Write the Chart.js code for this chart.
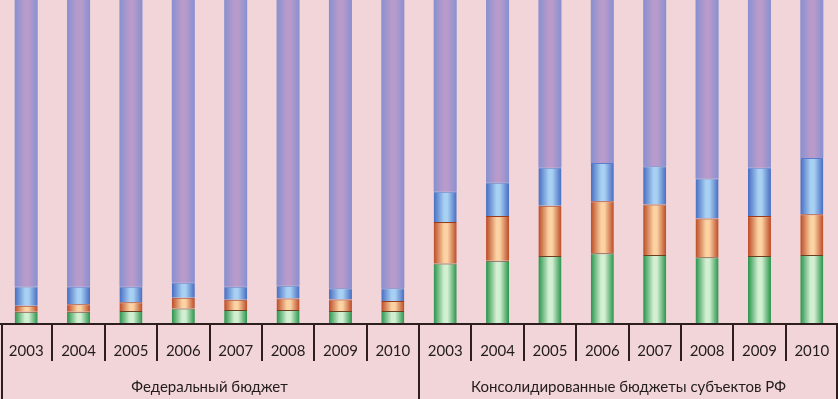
<!DOCTYPE html>
<html lang="ru">
<head>
  <meta charset="UTF-8">
  <title>Структура бюджетов</title>
  <script src="https://cdn.jsdelivr.net/npm/chart.js"></script>
  <style>
    html, body { margin: 0; padding: 0; background: #f2d5d8; }
    #wrap { width: 838px; height: 399px; }
  </style>
</head>
<body>
  <div id="wrap"><canvas id="budgetChart"></canvas></div>

  <script>
    // years on the axis, two groups of eight
    const years = ['2003', '2004', '2005', '2006', '2007', '2008', '2009', '2010'];
    const groups = ['Федеральный бюджет', 'Консолидированные бюджеты субъектов РФ'];
    const labels = years.concat(years);

    // shares, %
    const greenShare  = [3.8, 3.8, 4.0, 4.8, 4.3, 4.3, 4.0, 4.0,   18.7, 19.5, 21.0, 21.8, 21.3, 20.6, 21.0, 21.3];
    const orangeShare = [1.8, 2.3, 2.7, 3.3, 3.2, 3.6, 3.6, 3.1,   12.8, 13.8, 15.5, 16.1, 15.6, 12.0, 12.3, 12.6];
    const blueShare   = [6.0, 5.4, 4.8, 4.6, 4.0, 3.9, 3.4, 3.9,    9.3, 10.3, 11.7, 11.8, 11.8, 12.3, 14.9, 17.3];
    const purpleShare = greenShare.map((g, i) => +(100 - g - orangeShare[i] - blueShare[i]).toFixed(1));

    const barPct = 0.44;

    // cylinder-like shading across each bar
    function shade(edge, mid) {
      return function (context) {
        const chart = context.chart;
        const xs = chart.scales.x;
        if (!chart.chartArea || !xs || context.dataIndex === undefined) return mid;
        const cx = xs.getPixelForValue(context.dataIndex);
        const w = (chart.chartArea.width / labels.length) * barPct;
        const g = chart.ctx.createLinearGradient(cx - w / 2, 0, cx + w / 2, 0);
        g.addColorStop(0, edge);
        g.addColorStop(0.45, mid);
        g.addColorStop(0.6, mid);
        g.addColorStop(1, edge);
        return g;
      };
    }

    const axisPlugin = {
      id: 'axisTable',
      beforeDraw(chart) {
        const c = chart.ctx;
        c.save();
        c.fillStyle = '#f2d5d8';
        c.fillRect(0, 0, chart.width, chart.height);
        c.restore();
      },
      afterDraw(chart) {
        const c = chart.ctx;
        const area = chart.chartArea;
        const xs = chart.scales.x;
        const slot = area.width / labels.length;
        const base = area.bottom;
        c.save();
        c.strokeStyle = '#2e1e1e';
        c.lineWidth = 2;
        c.beginPath();
        c.moveTo(0, base);
        c.lineTo(chart.width, base);
        // short ticks between years
        for (let i = 1; i < labels.length; i++) {
          const x = Math.round(xs.getPixelForValue(i) - slot / 2);
          c.moveTo(x, base);
          c.lineTo(x, i === years.length ? chart.height : base + 37);
        }
        c.moveTo(2, base);
        c.lineTo(2, chart.height);
        c.moveTo(chart.width - 1, base);
        c.lineTo(chart.width - 1, chart.height);
        c.stroke();

        c.fillStyle = '#221c1c';
        c.font = '15px Lato, "Open Sans", sans-serif';
        c.textAlign = 'center';
        c.textBaseline = 'middle';
        labels.forEach((lab, i) => {
          c.fillText(lab, xs.getPixelForValue(i), base + 27);
        });
        groups.forEach((name, gi) => {
          const first = xs.getPixelForValue(gi * years.length) - slot / 2;
          const last = xs.getPixelForValue((gi + 1) * years.length - 1) + slot / 2;
          c.fillText(name, (first + last) / 2, base + 63);
        });
        c.restore();
      }
    };

    const ctx = document.getElementById('budgetChart').getContext('2d');
    new Chart(ctx, {
      type: 'bar',
      data: {
        labels: labels,
        datasets: [
          {
            label: 'green',
            data: greenShare,
            backgroundColor: shade('#27934a', '#d3efd2'),
            borderColor: '#6b4020',
            borderWidth: { top: 1, bottom: 0, left: 0, right: 0 },
            borderSkipped: false
          },
          {
            label: 'orange',
            data: orangeShare,
            backgroundColor: shade('#bb4a26', '#fbd2a2'),
            borderColor: '#9c3a1c',
            borderWidth: { top: 1, bottom: 0, left: 0, right: 0 },
            borderSkipped: false
          },
          {
            label: 'blue',
            data: blueShare,
            backgroundColor: shade('#466cc2', '#a8d0f2'),
            borderColor: '#5a7ccc',
            borderWidth: { top: 1, bottom: 0, left: 0, right: 0 },
            borderSkipped: false
          },
          {
            label: 'purple',
            data: purpleShare,
            backgroundColor: shade('#8790d0', '#b99bcb'),
            borderWidth: 0
          }
        ]
      },
      options: {
        responsive: true,
        maintainAspectRatio: false,
        animation: false,
        layout: { padding: { left: 0, right: 0, top: 0, bottom: 75 } },
        datasets: {
          bar: { categoryPercentage: 1, barPercentage: barPct }
        },
        plugins: {
          legend: { display: false },
          tooltip: { enabled: false }
        },
        scales: {
          x: { stacked: true, display: false },
          y: { stacked: true, display: false, min: 0, max: 100 }
        }
      },
      plugins: [axisPlugin]
    });
  </script>
</body>
</html>
